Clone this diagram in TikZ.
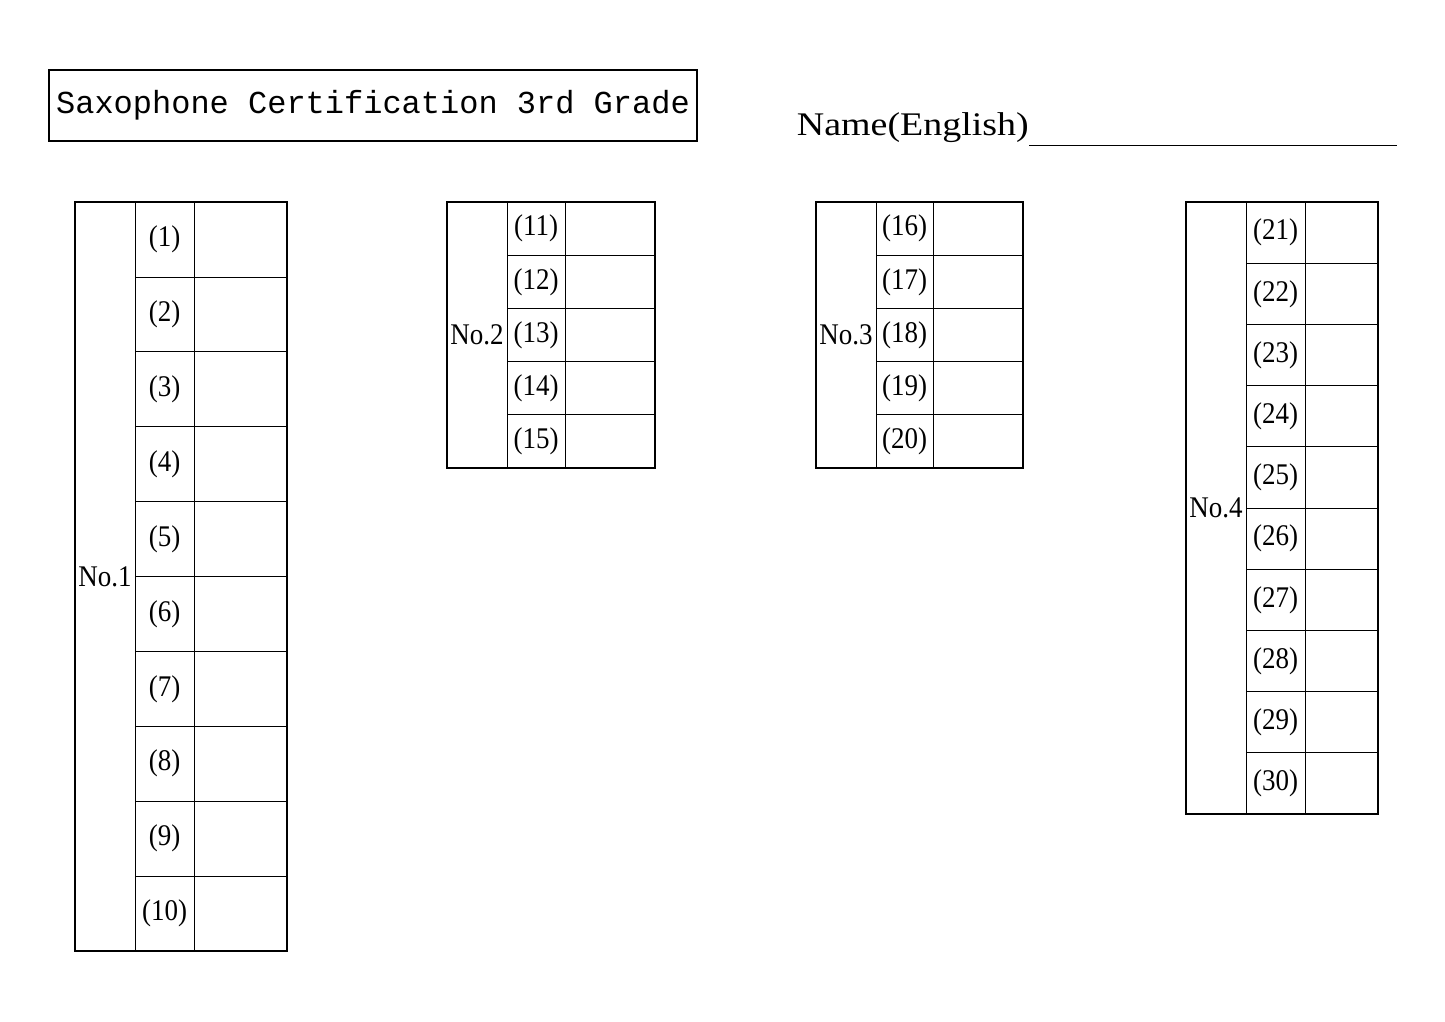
\documentclass[tikz,border=0pt]{standalone}
\usepackage{fontspec}
\setmainfont{Liberation Serif}
\setmonofont{Liberation Mono}
\usetikzlibrary{positioning,calc}

% one answer table: left, top, right, bottom, inner col 1, inner col 2, rows, first number, label
\newcommand{\answertable}[9]{%
  \draw[frame] (#1,#2) rectangle (#3,#4);
  \draw[grid] (#5,#2) -- (#5,#4);
  \draw[grid] (#6,#2) -- (#6,#4);
  \pgfmathsetmacro{\rowh}{(#4-#2)/#7}
  \foreach \r in {1,...,#7}{
    \pgfmathtruncatemacro{\num}{#8+\r-1}
    \ifnum\r<#7 \draw[grid] (#5,{#2+\r*\rowh}) -- (#3,{#2+\r*\rowh}); \fi
    \node[cell] (q\num) at ({(#5+#6)/2},{#2+(\r-0.5)*\rowh}) {(\num)};
  }
  \node[cell] (#9) at ({(#1+#5)/2},{(#2+#4)/2}) {#9};
}

\begin{document}
\begin{tikzpicture}
[x=1pt,y=-1pt,
frame/.style={line width=2.2pt},
grid/.style={line width=0.8pt},
cell/.style={font=\fontsize{30}{30}\selectfont,xscale=0.9,transform shape,inner sep=0pt}]

\useasboundingbox (0,0) rectangle (1445,1022);

% title
\draw[line width=2pt] (49,70) rectangle (697,141);
\node[font=\ttfamily\fontsize{32}{32}\selectfont] (title) at (373,105) {Saxophone Certification 3rd Grade};

% name field
\node[font=\fontsize{33}{33}\selectfont,xscale=1.15,transform shape,anchor=east,inner sep=0pt] (name) at (1029,128) {Name(English)};
\coordinate (lineend) at (1397,145);
\draw[line width=1pt] (name.south east |- lineend) -- (lineend);

% tables
\answertable{75}{202}{287}{951}{135}{194}{10}{1}{No.1}
\answertable{447}{202}{655}{468}{507}{565}{5}{11}{No.2}
\answertable{816}{202}{1023}{468}{876}{933}{5}{16}{No.3}
\answertable{1186}{202}{1378}{814}{1246}{1305}{10}{21}{No.4}
\end{tikzpicture}
\end{document}
